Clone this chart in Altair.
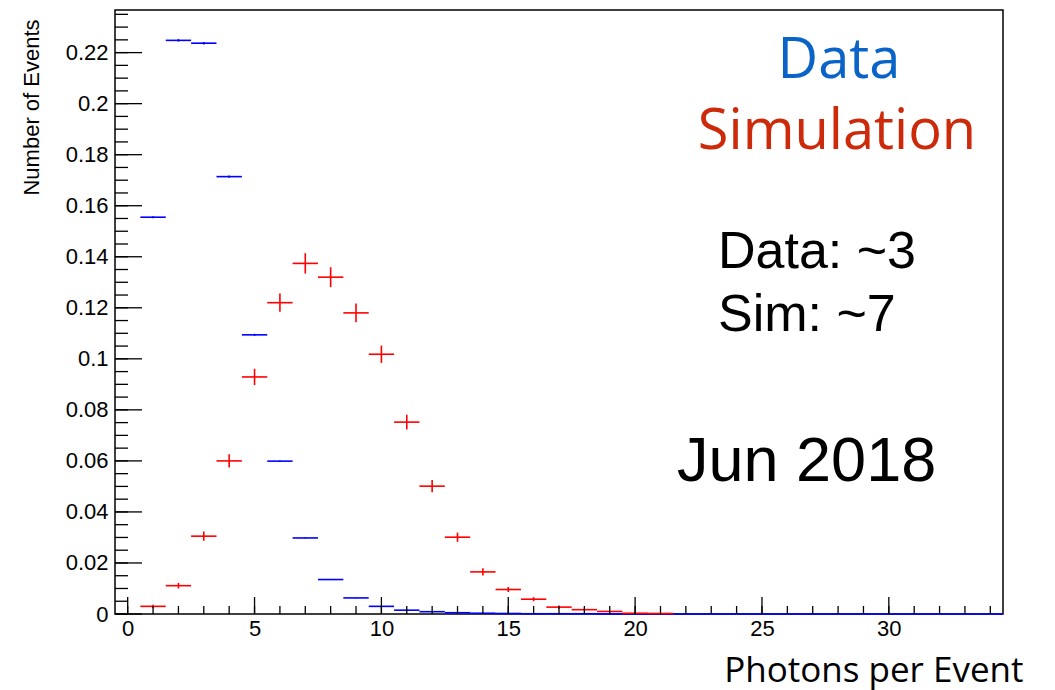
import altair as alt
import pandas as pd

# ---- data ----
data_bins = list(range(1, 35))
data_vals = [0.1555, 0.2248, 0.2237, 0.1714, 0.1094, 0.0599, 0.0298, 0.0135,
             0.0063, 0.0030, 0.0015, 0.0009, 0.0005, 0.0003, 0.0002, 0.0001,
             0.0001, 0.0001, 0.0, 0.0, 0.0, 0.0, 0.0, 0.0, 0.0, 0.0, 0.0,
             0.0, 0.0, 0.0, 0.0, 0.0, 0.0, 0.0]
data_errs = [0.0004, 0.0005, 0.0005, 0.0004, 0.0004, 0.0003, 0.0002, 0.0001,
             0.0001, 0.0001, 0.0, 0.0, 0.0, 0.0, 0.0, 0.0, 0.0, 0.0, 0.0, 0.0,
             0.0, 0.0, 0.0, 0.0, 0.0, 0.0, 0.0, 0.0, 0.0, 0.0, 0.0, 0.0, 0.0, 0.0]

sim_bins = list(range(1, 22))
sim_vals = [0.0030, 0.0111, 0.0305, 0.0600, 0.0929, 0.1220, 0.1374, 0.1320,
            0.1180, 0.1018, 0.0752, 0.0501, 0.0301, 0.0165, 0.0096, 0.0058,
            0.0027, 0.0017, 0.0010, 0.0003, 0.0002]
sim_errs = [0.0006, 0.0011, 0.0018, 0.0026, 0.0032, 0.0036, 0.0040, 0.0039,
            0.0037, 0.0034, 0.0029, 0.0024, 0.0018, 0.0014, 0.0010, 0.0008,
            0.0006, 0.0004, 0.0003, 0.0002, 0.0001]

bin_width = 1.0

x_major = [0, 5, 10, 15, 20, 25, 30]
x_minor = list(range(0, 35))
y_major = [0, 0.02, 0.04, 0.06, 0.08, 0.1, 0.12, 0.14, 0.16, 0.18, 0.2, 0.22]
y_minor = [round(i * 0.005, 3) for i in range(0, 48)]

x_domain = [-0.5, 34.5]
y_domain = [0, 0.2367]

W, H = 888, 604

df_data = pd.DataFrame({"x": data_bins, "y": data_vals, "e": data_errs})
df_sim = pd.DataFrame({"x": sim_bins, "y": sim_vals, "e": sim_errs})

xs = alt.Scale(domain=x_domain, nice=False, zero=False)
ys = alt.Scale(domain=y_domain, nice=False, zero=False)

label_font = "Liberation Sans"

xax = alt.Axis(values=x_major, ticks=False, tickSize=0, domain=False, grid=False,
               labelFont=label_font, labelFontSize=22, labelColor="black",
               labelPadding=4, title="Photons per Event", titleFont="Open Sans",
               titleFontSize=35, titleFontWeight="normal", titleColor="black",
               titleAnchor="end", titleAlign="right", titleX=W + 20, titleY=67,
               titleBaseline="alphabetic")
yax = alt.Axis(values=y_major, ticks=False, tickSize=0, domain=False, grid=False,
               format="~g", labelFont=label_font, labelFontSize=22,
               labelColor="black", labelPadding=7, title="Number of Events",
               titleFont=label_font, titleFontSize=22, titleFontWeight="normal",
               titleColor="black", titleAngle=270, titleX=-84, titleY=97,
               titleAlign="center", titleBaseline="middle")


def hist_layers(df, color):
    base = alt.Chart(df).transform_calculate(
        x0=f"datum.x - {bin_width / 2}", x1=f"datum.x + {bin_width / 2}",
        lo="datum.y - datum.e", hi="datum.y + datum.e")
    h = base.mark_rule(color=color, strokeWidth=1.6).encode(
        x=alt.X("x0:Q", scale=xs, axis=xax), x2="x1:Q",
        y=alt.Y("y:Q", scale=ys, axis=yax))
    v = base.mark_rule(color=color, strokeWidth=1.6).encode(
        x=alt.X("x:Q", scale=xs), y=alt.Y("lo:Q", scale=ys), y2="hi:Q")
    return [h, v]


def ticks_df(vals):
    return pd.DataFrame({"v": vals})

y_maj_t = alt.Chart(ticks_df(y_major)).mark_rule(color="black", strokeWidth=1.3).encode(
    y=alt.Y("v:Q", scale=ys), x=alt.value(0), x2=alt.value(27))
y_min_t = alt.Chart(ticks_df(y_minor)).mark_rule(color="black", strokeWidth=1.3).encode(
    y=alt.Y("v:Q", scale=ys), x=alt.value(0), x2=alt.value(13))
x_maj_t = alt.Chart(ticks_df(x_major)).mark_rule(color="black", strokeWidth=1.3).encode(
    x=alt.X("v:Q", scale=xs), y=alt.value(H), y2=alt.value(H - 17))
x_min_t = alt.Chart(ticks_df(x_minor)).mark_rule(color="black", strokeWidth=1.3).encode(
    x=alt.X("v:Q", scale=xs), y=alt.value(H), y2=alt.value(H - 8))

ann = pd.DataFrame({"t": [0]})

def txt(text, x, y, size, color, font, align):
    return alt.Chart(ann).mark_text(text=text, font=font, fontSize=size, color=color,
                                    align=align, baseline="alphabetic").encode(
        x=alt.value(x), y=alt.value(y))

t1 = txt("Data", 839 - 115, 78 - 10, 56, "#0a64c8", "Open Sans", "center")
t2 = txt("Simulation", 837 - 115, 149 - 10, 56, "#cc2a0a", "Open Sans", "center")
t3 = txt("Data: ~3", 718 - 115, 268 - 10, 52, "black", label_font, "left")
t4 = txt("Sim: ~7", 718 - 115, 331 - 10, 52, "black", label_font, "left")
t5 = txt("Jun 2018", 677 - 115, 481 - 10, 63, "black", label_font, "left")

layers = hist_layers(df_data, "#0000ff") + hist_layers(df_sim, "#ff0000")
layers += [y_maj_t, y_min_t, x_maj_t, x_min_t, t1, t2, t3, t4, t5]

chart = alt.layer(*layers).properties(
    width=W, height=H, autosize="none",
    padding={"left": 115, "top": 10, "right": 52, "bottom": 76},
    background="white",
).configure_view(stroke="black", strokeWidth=1.5)

chart.save("out.html", embed_options={"renderer": "svg", "actions": False})
